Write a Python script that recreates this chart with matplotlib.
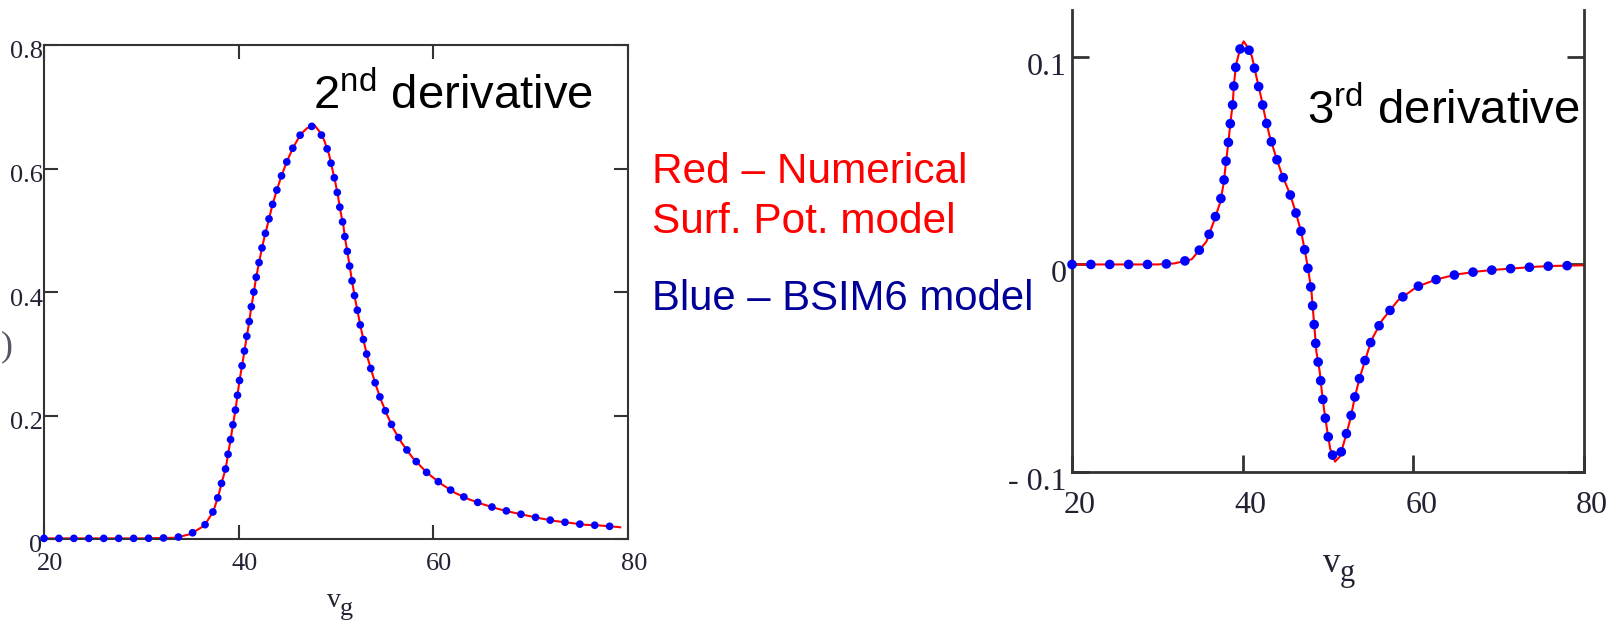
import matplotlib
matplotlib.use("Agg")
import matplotlib.pyplot as plt
import matplotlib.transforms as mtransforms

# ---------------- data ----------------
vg_2nd = [20, 25, 30, 33.5, 35.05, 36.5, 37.4, 37.9, 38.27, 38.68, 38.93, 39.18, 39.42,
          39.67, 39.88, 40.08, 40.33, 40.58, 40.82, 41.07, 41.28, 41.53, 41.77, 42.06,
          42.35, 42.68, 43.05, 43.42, 43.84, 44.33, 44.87, 45.53, 46.35, 47.0, 47.79,
          48.3, 48.78, 49.28, 49.61, 49.94, 50.23, 50.47, 50.76, 50.97, 51.22, 51.46,
          51.71, 51.96, 52.25, 52.54, 52.87, 53.20, 53.65, 54.10, 54.60, 55.22, 55.92,
          56.78, 57.90, 59.30, 60.74, 62.19, 63.71, 65.15, 66.60, 68.16, 69.61, 71.13,
          72.58, 74.10, 75.59, 77.03, 78.56, 79.2]
d2 = [0.001, 0.001, 0.001, 0.002, 0.008, 0.022, 0.045, 0.069, 0.092, 0.115, 0.139, 0.162,
      0.186, 0.209, 0.233, 0.256, 0.279, 0.303, 0.327, 0.350, 0.374, 0.397, 0.421, 0.445,
      0.468, 0.491, 0.514, 0.538, 0.561, 0.585, 0.608, 0.632, 0.655, 0.665, 0.670, 0.660,
      0.646, 0.623, 0.600, 0.577, 0.553, 0.530, 0.507, 0.483, 0.460, 0.436, 0.412, 0.389,
      0.366, 0.343, 0.319, 0.296, 0.272, 0.249, 0.226, 0.202, 0.178, 0.155, 0.131, 0.108,
      0.090, 0.075, 0.064, 0.056, 0.049, 0.043, 0.038, 0.033, 0.029, 0.026, 0.023, 0.022,
      0.020, 0.019]

vg_3rd = [20, 25, 30, 32, 34.03, 35.75, 36.6, 37.36, 37.79, 38.03, 38.32, 38.55, 38.84,
          38.98, 39.22, 39.7, 40.12, 40.6, 41.07, 41.6, 42.12, 42.6, 43.12, 43.83, 44.6,
          45.55, 46.26, 46.88, 47.35, 47.74, 48.07, 48.26, 48.45, 48.64, 49.02, 49.26,
          49.54, 49.88, 50.26, 50.83, 51.4, 52.02, 52.64, 53.11, 53.68, 54.4, 55.1, 56.3,
          58.2, 60.44, 62.8, 65.1, 67.48, 69.76, 72.1, 74.38, 76.6, 78.9, 80]
d3 = [0, 0, 0, 0.0005, 0.0025, 0.011, 0.0205, 0.0298, 0.0394, 0.049, 0.0585, 0.0679,
      0.0775, 0.087, 0.0961, 0.1040, 0.1075, 0.1045, 0.1004, 0.0906, 0.0813, 0.0718,
      0.0624, 0.0528, 0.0433, 0.0339, 0.0246, 0.0152, 0.0053, -0.0041, -0.0134, -0.023,
      -0.0324, -0.0421, -0.0513, -0.0606, -0.0699, -0.0793, -0.0889, -0.0950, -0.0925,
      -0.0836, -0.0742, -0.0645, -0.0551, -0.0455, -0.0364, -0.0271, -0.0173, -0.0107,
      -0.0071, -0.0048, -0.0034, -0.0025, -0.0018, -0.0011, -0.0007, -0.0005, -0.0004]

xticks = [20, 40, 60, 80]
xticklabels = ["20", "40", "60", "80"]
yticks_2nd = [0, 0.2, 0.4, 0.6, 0.8]
yticklabels_2nd = ["0", "0.2", "0.4", "0.6", "0.8"]
yticks_3rd = [-0.1, 0, 0.1]
yticklabels_3rd = ["- 0.1", "0", "0.1"]

title_2nd = "2$^{\\mathregular{nd}}$ derivative"
title_3rd = "3$^{\\mathregular{rd}}$ derivative"
legend_red_1 = "Red – Numerical"
legend_red_2 = "Surf. Pot. model"
legend_blue = "Blue – BSIM6 model"
xlabel_main = "v"
xlabel_sub = "g"

# ---------------- figure ----------------
W, H = 1614, 623
DPI = 100
fig = plt.figure(figsize=(W / DPI, H / DPI), dpi=DPI)
fig.patch.set_facecolor("white")

def fx(px):
    return px / W

def fy(py):
    return 1 - py / H

SERIF = "Liberation Serif"
SANS = "Liberation Sans"
SPINE = "#333333"
TICKC = "#222233"
RED = "#ff0000"
BLUE = "#0000ff"

def shift(labels, dx, dy):
    off = mtransforms.ScaledTranslation(dx / DPI, -dy / DPI, fig.dpi_scale_trans)
    for lab in labels:
        lab.set_transform(lab.get_transform() + off)

# ----- left axes: 2nd derivative -----
ax1 = fig.add_axes([fx(44), fy(539), fx(628) - fx(44), fy(45) - fy(539)])
ax1.plot(vg_2nd, d2, color=RED, lw=1.5, zorder=2, clip_on=False)
ax1.plot(vg_2nd, d2, color=BLUE, lw=5.6, linestyle=(0, (0.001, 1.92)),
         dash_capstyle="round", zorder=3, clip_on=False)
ax1.set_xlim(20, 80)
ax1.set_ylim(0, 0.8)
ax1.set_xticks(xticks)
ax1.set_xticklabels(xticklabels, family=SERIF, fontsize=19, color=TICKC)
ax1.set_yticks(yticks_2nd)
ax1.set_yticklabels(yticklabels_2nd, family=SERIF, fontsize=19, color=TICKC)
ax1.tick_params(direction="in", length=10, width=1.5, color=SPINE,
                top=True, right=True)
ax1.tick_params(axis="y", pad=1)
ax1.tick_params(axis="x", pad=10)
for s in ax1.spines.values():
    s.set_linewidth(1.5)
    s.set_color(SPINE)
shift(ax1.get_yticklabels(), 0, 5)
shift(ax1.get_xticklabels(), 6, 0)

fig.text(fx(313), fy(109), title_2nd, family=SANS, fontsize=34, color="black",
         ha="left", va="baseline")
fig.text(fx(327), fy(607), xlabel_main, family=SERIF, fontsize=20, color=TICKC,
         ha="left", va="baseline")
fig.text(fx(340), fy(615), xlabel_sub, family=SERIF, fontsize=19, color=TICKC,
         ha="left", va="baseline")
fig.text(fx(7), fy(347), ")", family=SERIF, fontsize=26, color="#555566",
         ha="center", va="center")

# ----- right axes: 3rd derivative -----
ax2 = fig.add_axes([fx(1072), fy(472), fx(1584) - fx(1072), fy(10) - fy(472)])
ax2.plot(vg_3rd, d3, color=RED, lw=1.5, zorder=2, clip_on=False)
ax2.plot(vg_3rd, d3, color=BLUE, lw=7.0, linestyle=(0, (0.001, 1.94)),
         dash_capstyle="round", zorder=3, clip_on=False)
ax2.set_xlim(20, 80)
ax2.set_ylim(-0.1, 0.1226)
ax2.set_xticks(xticks)
ax2.set_xticklabels(xticklabels, family=SERIF, fontsize=23, color=TICKC)
ax2.set_yticks(yticks_3rd)
ax2.set_yticklabels(yticklabels_3rd, family=SERIF, fontsize=23, color=TICKC)
ax2.tick_params(direction="in", length=12, width=2, color=SPINE)
ax2.tick_params(axis="y", right=True, pad=4)
ax2.tick_params(axis="x", pad=14)
ax2.spines["top"].set_visible(False)
for k in ["left", "right", "bottom"]:
    ax2.spines[k].set_linewidth(2)
    ax2.spines[k].set_color(SPINE)
shift(ax2.get_yticklabels(), 0, 7)
shift(ax2.get_xticklabels(), 8, 0)

fig.text(fx(1307), fy(124), title_3rd, family=SANS, fontsize=34, color="black",
         ha="left", va="baseline")
fig.text(fx(1323), fy(572), xlabel_main, family=SERIF, fontsize=25, color=TICKC,
         ha="left", va="baseline")
fig.text(fx(1340), fy(581), xlabel_sub, family=SERIF, fontsize=22, color=TICKC,
         ha="left", va="baseline")

# ----- annotation text -----
fig.text(fx(652), fy(183), legend_red_1, family=SANS, fontsize=30.5, color=RED,
         ha="left", va="baseline")
fig.text(fx(652), fy(233), legend_red_2, family=SANS, fontsize=30.5, color=RED,
         ha="left", va="baseline")
fig.text(fx(652), fy(310), legend_blue, family=SANS, fontsize=30.2, color="#000099",
         ha="left", va="baseline")

fig.savefig("out.png", dpi=DPI, facecolor="white")
